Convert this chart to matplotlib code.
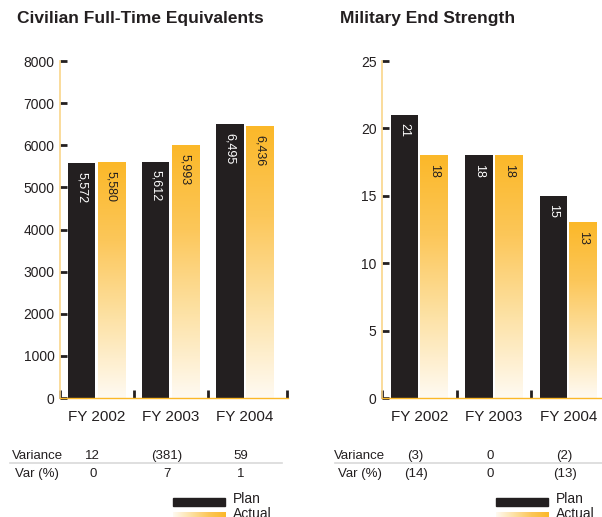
import numpy as np
import matplotlib
matplotlib.use("Agg")
import matplotlib.pyplot as plt
from matplotlib.colors import LinearSegmentedColormap
from matplotlib.transforms import blended_transform_factory

plt.rcParams['font.family'] = ['Liberation Sans', 'DejaVu Sans']

years = ["FY 2002", "FY 2003", "FY 2004"]

civ_plan = [5572, 5612, 6495]
civ_actual = [5580, 5993, 6436]
civ_variance = ["12", "(381)", "59"]
civ_var_pct = ["0", "7", "1"]

mil_plan = [21, 18, 15]
mil_actual = [18, 18, 13]
mil_variance = ["(3)", "0", "(2)"]
mil_var_pct = ["(14)", "0", "(13)"]

PLAN = "#231f20"
ORANGE = "#fbb829"
grad = LinearSegmentedColormap.from_list(
    "actual", ["#fffaf2", "#fde2a6", "#fcc75a", ORANGE])

fig = plt.figure(figsize=(6.02, 5.17), dpi=100)
narrow = ['Liberation Sans Narrow', 'Liberation Sans', 'DejaVu Sans']


def panel(rect, title, title_x, plan, actual, ymax, yticks, fmt, variance,
          var_pct, xlim, tick_pos, line_x, label_x, legend_x):
    ax = fig.add_axes(rect)
    x = np.arange(len(years))
    w = 0.37
    off = 0.2
    ax.bar(x - off, plan, w, color=PLAN, zorder=2)
    # gradient-filled actual bars
    vgrad = np.linspace(0, 1, 256).reshape(-1, 1)
    for xi, v in zip(x, actual):
        ax.imshow(vgrad, cmap=grad, aspect='auto', origin='lower',
                  extent=(xi + off - w / 2, xi + off + w / 2, 0, v), zorder=2)
    for xi, v in zip(x, plan):
        ax.text(xi - off, v - ymax * 0.025, fmt(v), rotation=-90, ha='center',
                va='top', color='white', fontsize=9, family=narrow, zorder=3)
    for xi, v in zip(x, actual):
        ax.text(xi + off, v - ymax * 0.025, fmt(v), rotation=-90, ha='center',
                va='top', color='#231f20', fontsize=9, family=narrow, zorder=3)
    ax.set_xlim(*xlim)
    ax.set_ylim(0, ymax)
    ax.set_yticks(yticks)
    ax.set_yticklabels([str(t) for t in yticks], fontsize=10, color='#231f20')
    ax.tick_params(axis='y', direction='in', length=5, width=2,
                   color='#231f20', pad=4)
    ax.set_xticks(tick_pos)
    ax.set_xticklabels([])
    ax.tick_params(axis='x', direction='in', length=6, width=2,
                   color='#231f20')
    for xi, lab in zip(x, years):
        ax.text(xi, -0.035 * ymax, lab, ha='center', va='top', fontsize=11,
                color='#231f20')
    for s in ['top', 'right']:
        ax.spines[s].set_visible(False)
    ax.spines['left'].set_color('#f9d58a')
    ax.spines['left'].set_linewidth(1.2)
    ax.spines['bottom'].set_color(ORANGE)
    ax.spines['bottom'].set_linewidth(1)

    fig.text(title_x, 0.955, title, fontsize=12.5, fontweight='bold',
             family=narrow, color='#231f20', ha='left', va='baseline')

    # variance rows under the chart
    tr = blended_transform_factory(ax.transData, fig.transFigure)
    fig.text(label_x, 0.113, "Variance", fontsize=9.5, ha='center',
             color='#231f20')
    fig.text(label_x, 0.078, "Var (%)", fontsize=9.5, ha='center',
             color='#231f20')
    for xi, a, b in zip(x, variance, var_pct):
        ax.text(xi - 0.05, 0.113, a, transform=tr, fontsize=9.5, ha='center',
                color='#231f20')
        ax.text(xi - 0.05, 0.078, b, transform=tr, fontsize=9.5, ha='center',
                color='#231f20')
    fig.add_artist(plt.Line2D(line_x, [0.105, 0.105], color='#d9d9d9',
                              lw=1.2, transform=fig.transFigure))

    # legend
    lx = legend_x
    fig.add_artist(plt.Rectangle((lx, 0.022), 0.087, 0.014, color=PLAN,
                                 transform=fig.transFigure))
    hgrad = np.linspace(0, 1, 256).reshape(1, -1)
    lax = fig.add_axes([lx, -0.005, 0.087, 0.014])
    lax.imshow(hgrad, cmap=grad, aspect='auto')
    lax.axis('off')
    fig.text(lx + 0.1, 0.028, "Plan", fontsize=10, color='#231f20')
    fig.text(lx + 0.1, -0.001, "Actual", fontsize=10, color='#231f20')
    return ax


panel([0.100, 0.230, 0.379, 0.652], "Civilian Full-Time Equivalents", 0.028,
      civ_plan, civ_actual, 8000, list(range(0, 8001, 1000)),
      lambda v: f"{v:,}", civ_variance, civ_var_pct,
      (-0.49, 2.59), [-0.49, 0.5, 1.5, 2.57], [0.017, 0.468], 0.062, 0.287)

panel([0.6346, 0.230, 0.37, 0.652], "Military End Strength", 0.565,
      mil_plan, mil_actual, 25, [0, 5, 10, 15, 20, 25],
      lambda v: f"{v}", mil_variance, mil_var_pct,
      (-0.50, 2.49), [-0.50, 0.5, 1.5], [0.556, 1.0], 0.598, 0.824)

fig.savefig("out.png", dpi=100)
